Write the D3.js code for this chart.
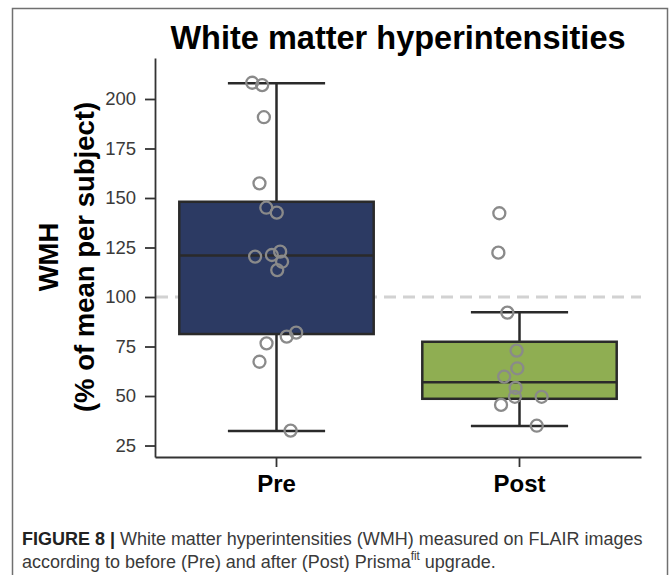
<!DOCTYPE html>
<html>
<head>
<meta charset="utf-8">
<script src="https://cdn.jsdelivr.net/npm/d3@7"></script>
<style>
	body { margin: 0; background: #fff; }
	svg { display: block; font-family: "Liberation Sans", Arial, sans-serif; }
</style>
</head>
<body>
<div id="chart"></div>
<script>
// Data
const groups = ["Pre", "Post"];

// individual subjects (% of mean per subject)
const preValues  = [208.2, 207, 190.8, 157.4, 145.1, 142.6, 120.4, 121.2, 122.9, 117.8, 113.6, 82, 80, 76.6, 67.3, 32.5];
const postValues = [142.3, 122.4, 92.1, 72.9, 64, 59.8, 54.1, 49.6, 49.6, 45.5, 35];

// horizontal jitter of each point, as fraction of the band
const preJitter  = [-0.10, -0.059, -0.052, -0.07, -0.042, 0.001, -0.088, -0.019, 0.015, 0.023, 0.003, 0.081, 0.042, -0.041, -0.07, 0.058];
const postJitter = [-0.083, -0.087, -0.05, -0.012, -0.009, -0.063, -0.016, -0.019, 0.091, -0.076, 0.071];

// box statistics: [whisker low, q1, median, q3, whisker high]
const preBox  = [32.3, 81.3, 120.9, 148.1, 207.9];
const postBox = [34.9, 48.6, 56.9, 77.4, 92.3];

const yTicks = [25, 50, 75, 100, 125, 150, 175, 200];
const referenceLine = 100;

const colors = { Pre: "#2c3a63", Post: "#8fae52" };

class BoxPlot {
	width; height;
	svg; chart;
	x; y;

	constructor(container, width, height) {
		this.width = width;
		this.height = height;

		this.svg = d3.select(container).append("svg")
			.attr("width", width).attr("height", height);

		// figure frame
		this.svg.append("rect")
			.attr("x", 12.5).attr("y", 8.5)
			.attr("width", 655).attr("height", height + 20)
			.attr("fill", "none")
			.attr("stroke", "#707070")
			.attr("stroke-width", 1.5);

		this.x = d3.scaleBand().domain(groups).range([155, 641]).padding(0);
		this.y = d3.scaleLinear().domain([19.2, 220.7]).range([457, 58]);

		this.chart = this.svg.append("g");
	}

	#drawAxes() {
		const yAxis = this.chart.append("g")
			.attr("transform", "translate(155,0)")
			.call(d3.axisLeft(this.y).tickValues(yTicks).tickSize(10).tickPadding(9).tickSizeOuter(0));
		yAxis.selectAll("text")
			.attr("font-size", 18.5).attr("fill", "#3a3a3a")
			.attr("font-family", "Liberation Sans, Arial, sans-serif");

		const xAxis = this.chart.append("g")
			.attr("transform", "translate(0,457)")
			.call(d3.axisBottom(this.x).tickSize(10).tickPadding(8).tickSizeOuter(0));
		xAxis.selectAll("text")
			.attr("font-size", 24).attr("font-weight", "bold").attr("fill", "#000")
			.attr("font-family", "Liberation Sans, Arial, sans-serif");

		this.chart.selectAll(".domain, .tick line")
			.attr("stroke", "#333").attr("stroke-width", 1.8);

		// y label
		const lab = this.chart.append("text")
			.attr("transform", "translate(62,257) rotate(-90)")
			.attr("text-anchor", "middle")
			.attr("font-weight", "bold").attr("font-size", 27.5).attr("fill", "#000");
		lab.append("tspan").attr("x", 0).attr("dy", "-0.15em").text("WMH");
		lab.append("tspan").attr("x", 0).attr("dy", "1.3em").text("(% of mean per subject)");

		// title
		this.chart.append("text")
			.attr("x", (155 + 641) / 2).attr("y", 49)
			.attr("text-anchor", "middle")
			.attr("font-weight", "bold").attr("font-size", 32.5).attr("fill", "#000")
			.text("White matter hyperintensities");
	}

	#drawReference() {
		this.chart.append("line")
			.attr("x1", 156).attr("x2", 641)
			.attr("y1", this.y(referenceLine)).attr("y2", this.y(referenceLine))
			.attr("stroke", "#d2d2d2").attr("stroke-width", 3)
			.attr("stroke-dasharray", "12,7");
	}

	#drawBoxes(boxes) {
		const bw = this.x.bandwidth();
		const g = this.chart.selectAll("g.box")
			.data(boxes)
			.join("g")
			.classed("box", true)
			.attr("transform", (d) => `translate(${this.x(d.key) + bw / 2},0)`);

		const edge = "#2a2a2a";
		// whiskers
		g.append("line")
			.attr("y1", (d) => this.y(d.stats[0])).attr("y2", (d) => this.y(d.stats[1]))
			.attr("stroke", edge).attr("stroke-width", 2.5);
		g.append("line")
			.attr("y1", (d) => this.y(d.stats[3])).attr("y2", (d) => this.y(d.stats[4]))
			.attr("stroke", edge).attr("stroke-width", 2.5);
		// caps
		[0, 4].forEach((k) => {
			g.append("line")
				.attr("x1", -bw * 0.2).attr("x2", bw * 0.2)
				.attr("y1", (d) => this.y(d.stats[k])).attr("y2", (d) => this.y(d.stats[k]))
				.attr("stroke", edge).attr("stroke-width", 2.5);
		});
		// box
		g.append("rect")
			.attr("x", -bw * 0.4).attr("width", bw * 0.8)
			.attr("y", (d) => this.y(d.stats[3]))
			.attr("height", (d) => this.y(d.stats[1]) - this.y(d.stats[3]))
			.attr("fill", (d) => colors[d.key])
			.attr("stroke", edge).attr("stroke-width", 2.5);
		// median
		g.append("line")
			.attr("x1", -bw * 0.4).attr("x2", bw * 0.4)
			.attr("y1", (d) => this.y(d.stats[2])).attr("y2", (d) => this.y(d.stats[2]))
			.attr("stroke", edge).attr("stroke-width", 2.5);
	}

	#drawPoints(points) {
		const bw = this.x.bandwidth();
		this.chart.selectAll("circle.pt")
			.data(points)
			.join("circle")
			.classed("pt", true)
			.attr("cx", (d) => this.x(d.key) + bw / 2 + d.jitter * bw)
			.attr("cy", (d) => this.y(d.value))
			.attr("r", 6)
			.attr("fill", "none")
			.attr("stroke", "#8a8a8a")
			.attr("stroke-width", 2.3);
	}

	#drawCaption() {
		// caption font is condensed in the original: larger size, squeezed horizontally
		const fs = 18.5;
		const cap = this.svg.append("g");
		const l1 = cap.append("text")
			.attr("x", 0).attr("y", 545)
			.attr("font-size", fs).attr("fill", "#3a3a3a");
		l1.append("tspan").attr("font-weight", "bold").attr("fill", "#222").text("FIGURE 8 | ");
		l1.append("tspan").text("White matter hyperintensities (WMH) measured on FLAIR images");

		const l2 = cap.append("text")
			.attr("x", 0).attr("y", 568)
			.attr("font-size", fs).attr("fill", "#3a3a3a");
		l2.append("tspan").text("according to before (Pre) and after (Post) Prisma");
		l2.append("tspan").attr("font-size", fs * 0.65).attr("dy", -8).text("fit");
		l2.append("tspan").attr("dy", 8).text(" upgrade.");

		const target = 621;
		const sx = target / l1.node().getComputedTextLength();
		cap.attr("transform", `translate(22,0) scale(${sx},1)`);
	}

	render() {
		const boxes = [
			{ key: "Pre", stats: preBox },
			{ key: "Post", stats: postBox }
		];
		const points = [
			...preValues.map((v, i) => ({ key: "Pre", value: v, jitter: preJitter[i] })),
			...postValues.map((v, i) => ({ key: "Post", value: v, jitter: postJitter[i] }))
		];
		this.#drawReference();
		this.#drawBoxes(boxes);
		this.#drawPoints(points);
		this.#drawAxes();
		this.#drawCaption();
		return this;
	}
}

new BoxPlot("#chart", 669, 575).render();
</script>
</body>
</html>
